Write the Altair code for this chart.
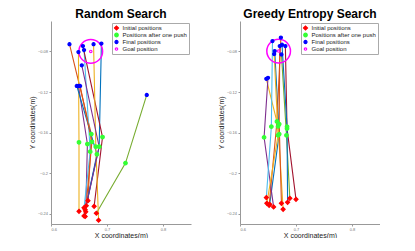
import altair as alt
import pandas as pd

PALETTE = ["#0072BD", "#D95319", "#EDB120", "#7E2F8E", "#77AC30", "#4DBEEE", "#A2142F"]
LABELS = ["Initial positions", "Positions after one push", "Final positions", "Goal position"]

X_TICKS = [0.6, 0.65, 0.7, 0.75, 0.8, 0.85]
Y_TICKS = [-0.06, -0.08, -0.1, -0.12, -0.14, -0.16, -0.18, -0.2, -0.22, -0.24]

# Random search trajectories (initial -> after one push -> final)
RS_INIT_X = [0.661, 0.666, 0.650, 0.662, 0.681, 0.659, 0.677, 0.659, 0.661, 0.685, 0.663]
RS_INIT_Y = [-0.236, -0.227, -0.2375, -0.238, -0.2394, -0.234, -0.2326, -0.242, -0.2425, -0.2463, -0.232]
RS_MID_X = [0.686, 0.672, 0.650, 0.665, 0.733, 0.670, 0.692, 0.682, 0.673, 0.680, 0.686]
RS_MID_Y = [-0.1738, -0.1614, -0.1695, -0.1712, -0.190, -0.1787, -0.1643, -0.1813, -0.169, -0.1738, -0.1738]
RS_FIN_X = [0.690, 0.633, 0.649, 0.649, 0.771, 0.659, 0.657, 0.646, 0.652, 0.676, 0.655]
RS_FIN_Y = [-0.0722, -0.0728, -0.0806, -0.114, -0.1228, -0.0786, -0.0747, -0.114, -0.114, -0.0728, -0.0937]
RS_GOAL = [0.671, -0.080]

# Greedy entropy search trajectories
GE_INIT_X = [0.653, 0.652, 0.677, 0.660, 0.689, 0.647, 0.700, 0.685, 0.674, 0.648]
GE_INIT_Y = [-0.2306, -0.2316, -0.2355, -0.2332, -0.2247, -0.224, -0.2257, -0.2286, -0.2296, -0.2296]
GE_MID_X = [0.670, 0.666, 0.668, 0.643, 0.683, 0.656, 0.684, 0.684, 0.670, 0.668]
GE_MID_Y = [-0.1614, -0.149, -0.1538, -0.1646, -0.1626, -0.154, -0.156, -0.154, -0.1516, -0.1626]
GE_FIN_X = [0.662, 0.673, 0.647, 0.650, 0.674, 0.658, 0.681, 0.675, 0.671, 0.661]
GE_FIN_Y = [-0.0796, -0.0663, -0.107, -0.106, -0.083, -0.0698, -0.0747, -0.0734, -0.0747, -0.0826]
GE_GOAL = [0.669, -0.0796]

FONT = "Liberation Sans"


def panel(title, ix, iy, mx, my, fx, fy, goal):
    rows = []
    pts = []
    for k in range(len(ix)):
        rows.append(dict(traj=k, step=0, x=ix[k], y=iy[k]))
        rows.append(dict(traj=k, step=1, x=mx[k], y=my[k]))
        rows.append(dict(traj=k, step=2, x=fx[k], y=fy[k]))
    for k in range(len(ix)):
        pts.append(dict(type=LABELS[0], ord=0, x=ix[k], y=iy[k]))
    for k in range(len(mx)):
        pts.append(dict(type=LABELS[1], ord=1, x=mx[k], y=my[k]))
    for k in range(len(fx)):
        pts.append(dict(type=LABELS[2], ord=2, x=fx[k], y=fy[k]))
    pts.append(dict(type=LABELS[3], ord=3, x=goal[0], y=goal[1]))
    lines_df = pd.DataFrame(rows)
    pts_df = pd.DataFrame(pts)
    goal_df = pd.DataFrame([dict(x=goal[0], y=goal[1])])

    xenc = alt.X("x:Q", scale=alt.Scale(domain=[0.6, 0.85], nice=False, zero=False),
                 axis=alt.Axis(values=X_TICKS, format="~g", title="X coordinates(m)",
                               labelPadding=1, titlePadding=0))
    yenc = alt.Y("y:Q", scale=alt.Scale(domain=[-0.25, -0.05], nice=False, zero=False),
                 axis=alt.Axis(values=Y_TICKS, format="~g", title="Y coordinates(m)"))

    lines = alt.Chart(lines_df).mark_line(strokeWidth=1.1).encode(
        x=xenc, y=yenc,
        color=alt.Color("traj:N", scale=alt.Scale(range=PALETTE), legend=None),
        order="step:O",
    )
    leg = alt.Legend(orient="top-right", offset=2)
    points = alt.Chart(pts_df).mark_point(opacity=1, strokeWidth=1.2).encode(
        x="x:Q", y="y:Q",
        fill=alt.Fill("type:N", scale=alt.Scale(domain=LABELS,
                      range=["#ff0000", "#33ff33", "#0000ff", "transparent"]), title=None, legend=leg),
        stroke=alt.Stroke("type:N", scale=alt.Scale(domain=LABELS,
                          range=["#ff0000", "#33ff33", "#0000ff", "#ff00ff"]), title=None, legend=leg),
        shape=alt.Shape("type:N", scale=alt.Scale(domain=LABELS,
                        range=["diamond", "circle", "circle", "circle"]), title=None, legend=leg),
        size=alt.Size("type:N", scale=alt.Scale(domain=LABELS, range=[16, 6, 16, 14]),
                      title=None, legend=leg),
        order=alt.Order("ord:Q"),
    )
    circle = alt.Chart(goal_df).mark_point(shape="circle", filled=False, size=560,
                                           stroke="#ff00ff", strokeWidth=1.5, opacity=1).encode(
        x="x:Q", y="y:Q")
    return alt.layer(lines, circle, points).properties(
        width=140, height=203,
        title=alt.TitleParams(title, fontSize=12, font=FONT, fontWeight="bold", offset=0),
    )


left = panel("Random Search", RS_INIT_X, RS_INIT_Y, RS_MID_X, RS_MID_Y, RS_FIN_X, RS_FIN_Y, RS_GOAL)
right = panel("Greedy Entropy Search", GE_INIT_X, GE_INIT_Y, GE_MID_X, GE_MID_Y, GE_FIN_X, GE_FIN_Y, GE_GOAL)

chart = alt.hconcat(left, right, spacing=26).resolve_scale(
    color="independent", fill="independent", stroke="independent", shape="independent",
    size="independent", x="independent", y="independent",
).resolve_legend(
    fill="independent", stroke="independent", shape="independent", size="independent",
).properties(
    padding={"left": 20, "top": 0, "right": 0, "bottom": 0}
).configure_view(stroke=None).configure_axis(
    grid=False, domainColor="#999", tickColor="#999", tickSize=2,
    labelFontSize=4, labelColor="#777", labelFont=FONT, labelPadding=1.5, labelOverlap=False,
    titleFontSize=7, titleFont=FONT, titleFontWeight="normal", titleColor="#222", titlePadding=2,
).configure_legend(
    labelFontSize=6, labelFont=FONT, labelColor="#222",
    strokeColor="#aaa", fillColor="white", padding=1.5, rowPadding=0, symbolStrokeWidth=1.2,
    labelLimit=120, labelOffset=3, clipHeight=7,
)

chart.save("out.html", embed_options={"renderer": "svg", "actions": False})
